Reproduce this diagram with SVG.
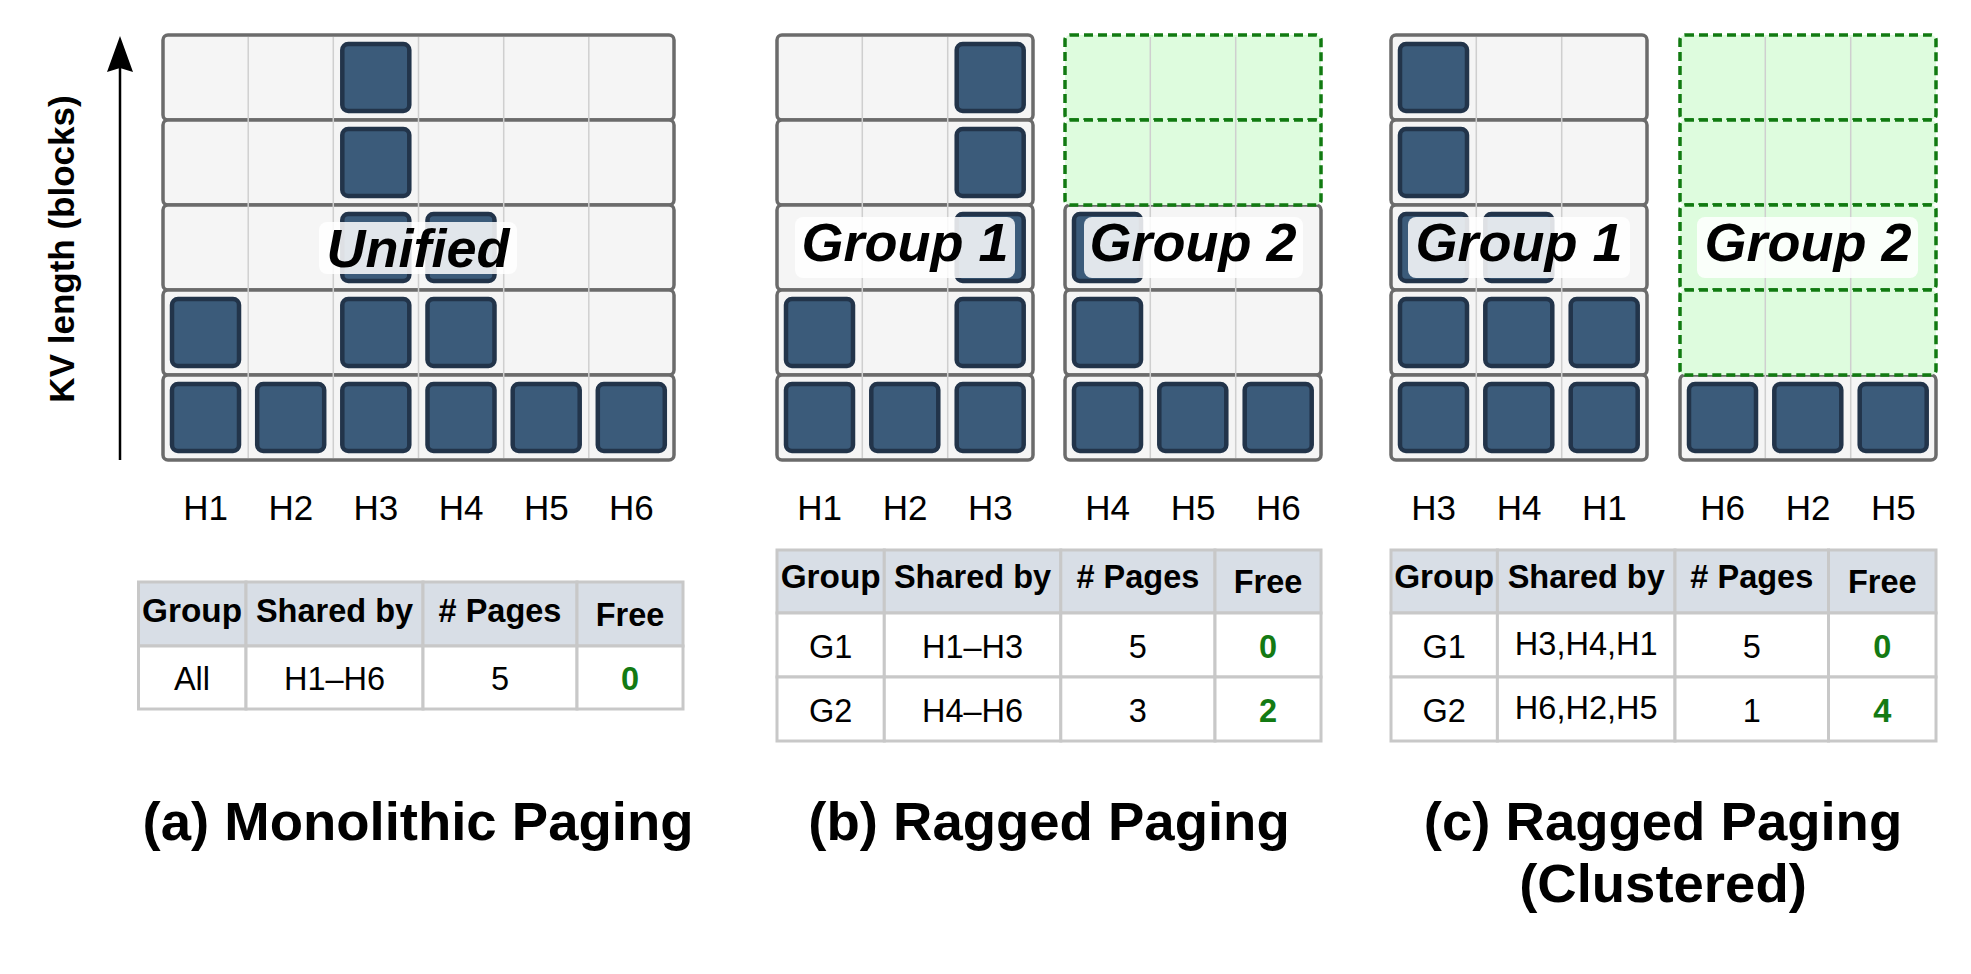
<svg xmlns="http://www.w3.org/2000/svg" width="1971" height="974" viewBox="0 0 1971 974">
<style>
text{font-family:"Liberation Sans",Arial,sans-serif;fill:#000}
.row{fill:#f5f5f5;stroke:#6b6b6b;stroke-width:3.5}
.free{fill:#defcde;stroke:#117a11;stroke-width:3.5;stroke-dasharray:9 5}
.vl{stroke:#cfcfcf;stroke-width:1.5}
.blk{fill:#3b5b7a;stroke:#22344a;stroke-width:4.5}
.lbox{fill:#ffffff;fill-opacity:0.85}
.lbl{font-size:54px;font-weight:bold;font-style:italic;text-anchor:middle}
.hl{font-size:35px;text-anchor:middle}
.th{fill:#d8dee6;stroke:#c8c8c8;stroke-width:3}
.td{fill:#ffffff;stroke:#c8c8c8;stroke-width:3}
.tht{font-size:32.5px;font-weight:bold;text-anchor:middle}
.tdt{font-size:32.5px;text-anchor:middle}
.grn{font-size:32.5px;font-weight:bold;text-anchor:middle;fill:#137a13}
.title{font-size:54.5px;font-weight:bold;text-anchor:middle}
</style>
<defs>
<rect id="b" class="blk" width="67" height="67" rx="6"/>
</defs>
<rect width="1971" height="974" fill="#ffffff"/>

<g id="axis">
<line x1="120" y1="460" x2="120" y2="60" stroke="#000" stroke-width="2.5"/>
<polygon points="120,36 133,72 120,68 107,72" fill="#000"/>
<text transform="translate(74,249) rotate(-90)" font-size="35" font-weight="bold" text-anchor="middle">KV length (blocks)</text>
</g>

<!-- Panel A -->
<g id="panel-a">
<rect class="row" x="163" y="35" width="511" height="85" rx="5"/>
<rect class="row" x="163" y="120" width="511" height="85" rx="5"/>
<rect class="row" x="163" y="205" width="511" height="85" rx="5"/>
<rect class="row" x="163" y="290" width="511" height="85" rx="5"/>
<rect class="row" x="163" y="375" width="511" height="85" rx="5"/>
<g class="vl">
<line x1="248.2" y1="37" x2="248.2" y2="458"/><line x1="333.3" y1="37" x2="333.3" y2="458"/><line x1="418.5" y1="37" x2="418.5" y2="458"/><line x1="503.7" y1="37" x2="503.7" y2="458"/><line x1="588.8" y1="37" x2="588.8" y2="458"/>
</g>
<use href="#b" x="172" y="384"/><use href="#b" x="172" y="299"/>
<use href="#b" x="257.2" y="384"/>
<use href="#b" x="342.3" y="384"/><use href="#b" x="342.3" y="299"/><use href="#b" x="342.3" y="214"/><use href="#b" x="342.3" y="129"/><use href="#b" x="342.3" y="44"/>
<use href="#b" x="427.5" y="384"/><use href="#b" x="427.5" y="299"/><use href="#b" x="427.5" y="214"/>
<use href="#b" x="512.7" y="384"/>
<use href="#b" x="597.8" y="384"/>
<rect class="lbox" x="319" y="222" width="198" height="52" rx="8"/>
<text class="lbl" x="418" y="267">Unified</text>
<text class="hl" x="205.6" y="520">H1</text><text class="hl" x="290.8" y="520">H2</text><text class="hl" x="375.9" y="520">H3</text><text class="hl" x="461.1" y="520">H4</text><text class="hl" x="546.3" y="520">H5</text><text class="hl" x="631.4" y="520">H6</text>
</g>

<g id="table-a">
<rect class="th" x="138.5" y="582" width="107.5" height="64"/><rect class="th" x="246" y="582" width="177" height="64"/><rect class="th" x="423" y="582" width="154" height="64"/><rect class="th" x="577" y="582" width="106" height="64"/>
<rect class="td" x="138.5" y="646" width="107.5" height="63"/><rect class="td" x="246" y="646" width="177" height="63"/><rect class="td" x="423" y="646" width="154" height="63"/><rect class="td" x="577" y="646" width="106" height="63"/>
<text class="tht" x="192" y="622" textLength="100" lengthAdjust="spacingAndGlyphs">Group</text><text class="tht" x="334.5" y="622">Shared by</text><text class="tht" x="500" y="622"># Pages</text><text class="tht" x="630" y="626">Free</text>
<text class="tdt" x="192" y="690">All</text><text class="tdt" x="334.5" y="690">H1–H6</text><text class="tdt" x="500" y="690">5</text><text class="grn" x="630" y="690">0</text>
</g>
<text id="title-a" class="title" x="418" y="840">(a) Monolithic Paging</text>

<!-- Panel B -->
<g id="panel-b-g1">
<rect class="row" x="777" y="35" width="256" height="85" rx="5"/>
<rect class="row" x="777" y="120" width="256" height="85" rx="5"/>
<rect class="row" x="777" y="205" width="256" height="85" rx="5"/>
<rect class="row" x="777" y="290" width="256" height="85" rx="5"/>
<rect class="row" x="777" y="375" width="256" height="85" rx="5"/>
<g class="vl"><line x1="862.3" y1="37" x2="862.3" y2="458"/><line x1="947.7" y1="37" x2="947.7" y2="458"/></g>
<use href="#b" x="786" y="384"/><use href="#b" x="786" y="299"/>
<use href="#b" x="871.3" y="384"/>
<use href="#b" x="956.7" y="384"/><use href="#b" x="956.7" y="299"/><use href="#b" x="956.7" y="214"/><use href="#b" x="956.7" y="129"/><use href="#b" x="956.7" y="44"/>
<rect class="lbox" x="795" y="217" width="220" height="61" rx="8"/>
<text class="lbl" x="905" y="261">Group 1</text>
</g>
<g id="panel-b-g2">
<rect class="row" x="1065" y="205" width="256" height="85" rx="5"/>
<rect class="row" x="1065" y="290" width="256" height="85" rx="5"/>
<rect class="row" x="1065" y="375" width="256" height="85" rx="5"/>
<rect class="free" x="1065" y="35" width="256" height="85" rx="5"/>
<rect class="free" x="1065" y="120" width="256" height="85" rx="5"/>
<g class="vl"><line x1="1150.3" y1="37" x2="1150.3" y2="458"/><line x1="1235.7" y1="37" x2="1235.7" y2="458"/></g>
<use href="#b" x="1074" y="384"/><use href="#b" x="1074" y="299"/><use href="#b" x="1074" y="214"/>
<use href="#b" x="1159.3" y="384"/>
<use href="#b" x="1244.7" y="384"/>
<rect class="lbox" x="1084" y="217" width="219" height="61" rx="8"/>
<text class="lbl" x="1193" y="261">Group 2</text>
</g>
<g id="labels-b">
<text class="hl" x="819.7" y="520">H1</text><text class="hl" x="905" y="520">H2</text><text class="hl" x="990.3" y="520">H3</text><text class="hl" x="1107.7" y="520">H4</text><text class="hl" x="1193" y="520">H5</text><text class="hl" x="1278.3" y="520">H6</text>
</g>
<g id="table-b">
<rect class="th" x="777" y="550" width="107.3" height="63"/><rect class="th" x="884.3" y="550" width="176.5" height="63"/><rect class="th" x="1060.8" y="550" width="154.2" height="63"/><rect class="th" x="1215" y="550" width="106" height="63"/>
<rect class="td" x="777" y="613" width="107.3" height="64"/><rect class="td" x="884.3" y="613" width="176.5" height="64"/><rect class="td" x="1060.8" y="613" width="154.2" height="64"/><rect class="td" x="1215" y="613" width="106" height="64"/>
<rect class="td" x="777" y="677" width="107.3" height="64"/><rect class="td" x="884.3" y="677" width="176.5" height="64"/><rect class="td" x="1060.8" y="677" width="154.2" height="64"/><rect class="td" x="1215" y="677" width="106" height="64"/>
<text class="tht" x="830.7" y="588" textLength="100" lengthAdjust="spacingAndGlyphs">Group</text><text class="tht" x="972.5" y="588">Shared by</text><text class="tht" x="1137.9" y="588"># Pages</text><text class="tht" x="1268" y="593">Free</text>
<text class="tdt" x="830.7" y="658">G1</text><text class="tdt" x="972.5" y="658">H1–H3</text><text class="tdt" x="1137.9" y="658">5</text><text class="grn" x="1268" y="658">0</text>
<text class="tdt" x="830.7" y="722">G2</text><text class="tdt" x="972.5" y="722">H4–H6</text><text class="tdt" x="1137.9" y="722">3</text><text class="grn" x="1268" y="722">2</text>
</g>
<text id="title-b" class="title" x="1049" y="840">(b) Ragged Paging</text>

<!-- Panel C -->
<g id="panel-c-g1">
<rect class="row" x="1391" y="35" width="256" height="85" rx="5"/>
<rect class="row" x="1391" y="120" width="256" height="85" rx="5"/>
<rect class="row" x="1391" y="205" width="256" height="85" rx="5"/>
<rect class="row" x="1391" y="290" width="256" height="85" rx="5"/>
<rect class="row" x="1391" y="375" width="256" height="85" rx="5"/>
<g class="vl"><line x1="1476.3" y1="37" x2="1476.3" y2="458"/><line x1="1561.7" y1="37" x2="1561.7" y2="458"/></g>
<use href="#b" x="1400" y="384"/><use href="#b" x="1400" y="299"/><use href="#b" x="1400" y="214"/><use href="#b" x="1400" y="129"/><use href="#b" x="1400" y="44"/>
<use href="#b" x="1485.3" y="384"/><use href="#b" x="1485.3" y="299"/><use href="#b" x="1485.3" y="214"/>
<use href="#b" x="1570.7" y="384"/><use href="#b" x="1570.7" y="299"/>
<rect class="lbox" x="1408" y="217" width="222" height="61" rx="8"/>
<text class="lbl" x="1519" y="261">Group 1</text>
</g>
<g id="panel-c-g2">
<rect class="row" x="1680" y="375" width="256" height="85" rx="5"/>
<rect class="free" x="1680" y="35" width="256" height="85" rx="5"/>
<rect class="free" x="1680" y="120" width="256" height="85" rx="5"/>
<rect class="free" x="1680" y="205" width="256" height="85" rx="5"/>
<rect class="free" x="1680" y="290" width="256" height="85" rx="5"/>
<g class="vl"><line x1="1765.3" y1="37" x2="1765.3" y2="458"/><line x1="1850.7" y1="37" x2="1850.7" y2="458"/></g>
<use href="#b" x="1689" y="384"/><use href="#b" x="1774.3" y="384"/><use href="#b" x="1859.7" y="384"/>
<rect class="lbox" x="1697" y="217" width="221" height="61" rx="8"/>
<text class="lbl" x="1808" y="261">Group 2</text>
</g>
<g id="labels-c">
<text class="hl" x="1433.7" y="520">H3</text><text class="hl" x="1519" y="520">H4</text><text class="hl" x="1604.3" y="520">H1</text><text class="hl" x="1722.7" y="520">H6</text><text class="hl" x="1808" y="520">H2</text><text class="hl" x="1893.3" y="520">H5</text>
</g>
<g id="table-c">
<rect class="th" x="1391" y="550" width="106.4" height="63"/><rect class="th" x="1497.4" y="550" width="177.6" height="63"/><rect class="th" x="1675" y="550" width="153.5" height="63"/><rect class="th" x="1828.5" y="550" width="107.5" height="63"/>
<rect class="td" x="1391" y="613" width="106.4" height="64"/><rect class="td" x="1497.4" y="613" width="177.6" height="64"/><rect class="td" x="1675" y="613" width="153.5" height="64"/><rect class="td" x="1828.5" y="613" width="107.5" height="64"/>
<rect class="td" x="1391" y="677" width="106.4" height="64"/><rect class="td" x="1497.4" y="677" width="177.6" height="64"/><rect class="td" x="1675" y="677" width="153.5" height="64"/><rect class="td" x="1828.5" y="677" width="107.5" height="64"/>
<text class="tht" x="1444.2" y="588" textLength="100" lengthAdjust="spacingAndGlyphs">Group</text><text class="tht" x="1586.2" y="588">Shared by</text><text class="tht" x="1751.8" y="588"># Pages</text><text class="tht" x="1882.3" y="593">Free</text>
<text class="tdt" x="1444.2" y="658">G1</text><text class="tdt" x="1586.2" y="655">H3,H4,H1</text><text class="tdt" x="1751.8" y="658">5</text><text class="grn" x="1882.3" y="658">0</text>
<text class="tdt" x="1444.2" y="722">G2</text><text class="tdt" x="1586.2" y="719">H6,H2,H5</text><text class="tdt" x="1751.8" y="722">1</text><text class="grn" x="1882.3" y="722">4</text>
</g>
<g id="title-c">
<text class="title" x="1663" y="840">(c) Ragged Paging</text>
<text class="title" x="1663" y="902">(Clustered)</text>
</g>
</svg>
